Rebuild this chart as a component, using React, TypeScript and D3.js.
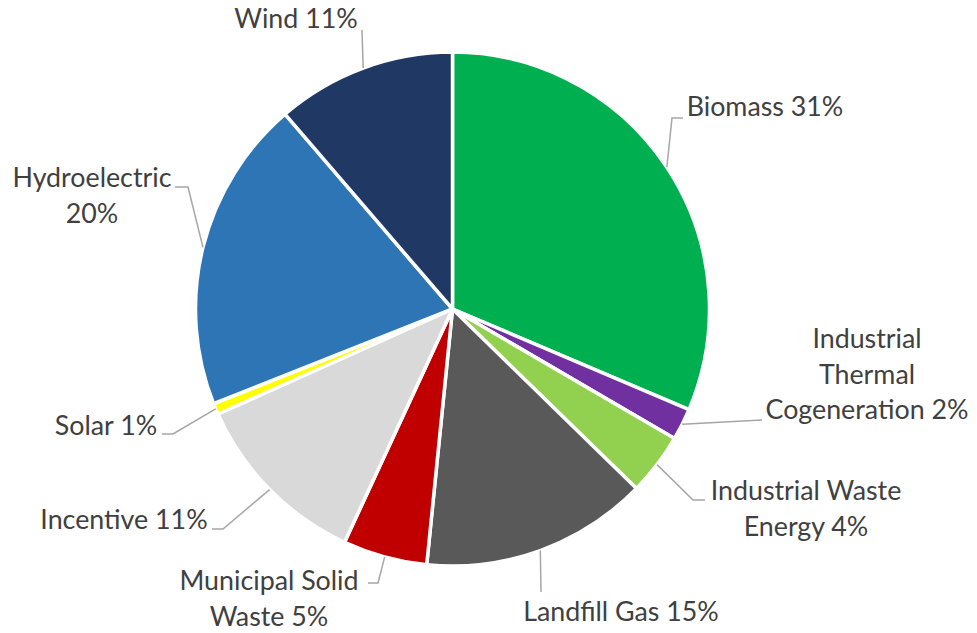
import React from "react";
import * as d3 from "d3";

const categories = [
  "Biomass",
  "Industrial Thermal Cogeneration",
  "Industrial Waste Energy",
  "Landfill Gas",
  "Municipal Solid Waste",
  "Incentive",
  "Solar",
  "Hydroelectric",
  "Wind",
];
const values = [31.4, 2.0, 3.9, 14.3, 5.3, 11.4, 0.7, 19.7, 11.3];
const percentLabels = ["31%", "2%", "4%", "15%", "5%", "11%", "1%", "20%", "11%"];
const colors = ["#00b050", "#7030a0", "#92d050", "#595959", "#c00000", "#d9d9d9", "#ffff00", "#2e75b6", "#203864"];

// label text lines (text content)
const labelLines = [
  ["Biomass 31%"],
  ["Industrial", "Thermal", "Cogeneration 2%"],
  ["Industrial Waste", "Energy 4%"],
  ["Landfill Gas 15%"],
  ["Municipal Solid", "Waste 5%"],
  ["Incentive 11%"],
  ["Solar 1%"],
  ["Hydroelectric", "20%"],
  ["Wind 11%"],
];

// layout: label centre x, first baseline y, leader path points after the arc point
const labelLayout = [
  { x: 765, y: 116, pts: [[672, 118], [683, 118]] },
  { x: 867, y: 348, pts: [[762, 420]] },
  { x: 806, y: 500, pts: [[693, 500], [705, 500]] },
  { x: 621, y: 621, pts: [[541, 592]] },
  { x: 269, y: 590, pts: [[378, 583], [368, 583]] },
  { x: 124, y: 529, pts: [[223, 529], [212, 529]] },
  { x: 106, y: 435, pts: [[173, 434], [162, 434]] },
  { x: 92, y: 187, pts: [[188, 187], [175, 187]] },
  { x: 296, y: 28, pts: [[362, 30]] },
];

const W = 977;
const H = 633;
const CX = 452.5;
const CY = 309;
const R = 257;
const LINE_H = 35.5;

export default function App() {
  const data = categories.map((c, i) => ({ name: c, value: values[i], i }));
  const pie = d3.pie<any>().sort(null).value((d) => d.value);
  const arcs = pie(data);
  const arc = d3.arc<any>().innerRadius(0).outerRadius(R);
  const edge = d3.arc<any>().innerRadius(R).outerRadius(R);

  return (
    <svg
      width={W}
      height={H}
      style={{ position: "absolute", left: 0, top: 0, background: "#fff" }}
      fontFamily="Lato, 'Open Sans', sans-serif"
    >
      <g transform={`translate(${CX},${CY})`}>
        {arcs.map((a, i) => (
          <path key={i} d={arc(a) as string} fill={colors[i]} stroke="#fff" strokeWidth={3.5} strokeLinejoin="round" />
        ))}
      </g>
      {arcs.map((a, i) => {
        const [ex, ey] = edge.centroid(a);
        const pts = [[CX + ex, CY + ey], ...labelLayout[i].pts];
        const line = d3.line()(pts as any);
        return <path key={"l" + i} d={line as string} fill="none" stroke="#a6a6a6" strokeWidth={1.5} />;
      })}
      {labelLines.map((lines, i) => (
        <text key={"t" + i} fill="#404040" fontSize={26.8} textAnchor="middle">
          {lines.map((ln, j) => (
            <tspan key={j} x={labelLayout[i].x} y={labelLayout[i].y + j * LINE_H}>
              {ln}
            </tspan>
          ))}
        </text>
      ))}
    </svg>
  );
}
